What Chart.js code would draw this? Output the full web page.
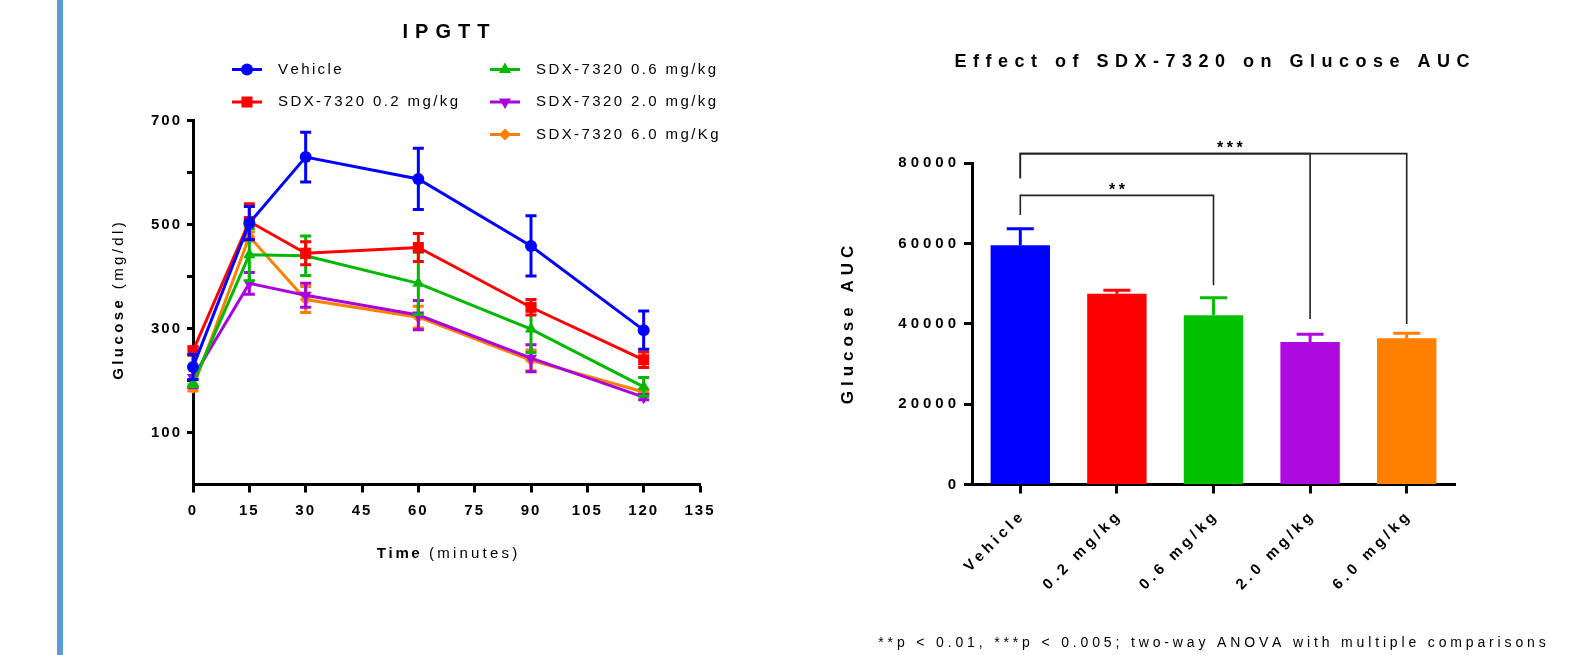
<!DOCTYPE html>
<html>
<head>
<meta charset="utf-8">
<script src="https://cdn.jsdelivr.net/npm/chart.js@4.4.1/dist/chart.umd.min.js"></script>
<style>
html, body { margin: 0; padding: 0; background: #fff; }
#page { position: relative; width: 1582px; height: 655px; overflow: hidden; }
#sidebar { position: absolute; left: 57px; top: 0; width: 6px; height: 655px; background: #5b9bd5; }
#ipgtt { position: absolute; left: 0; top: 0; }
#auc { position: absolute; left: 760px; top: 0; }
</style>
</head>
<body>
<div id="page">
  <div id="sidebar"></div>
  <canvas id="ipgtt" width="760" height="655"></canvas>
  <canvas id="auc" width="822" height="655"></canvas>
</div>
<script>
// ---- data: IPGTT (glucose mg/dl, mean and SEM) ----
const timePoints = [0, 15, 30, 60, 90, 120];
const timeTicks = [0, 15, 30, 45, 60, 75, 90, 105, 120, 135];
const glucoseTicks = [0, 100, 200, 300, 400, 500, 600, 700];
const glucoseLabels = [100, 300, 500, 700];
const groupNames = ['Vehicle', 'SDX-7320 0.2 mg/kg', 'SDX-7320 0.6 mg/kg', 'SDX-7320 2.0 mg/kg', 'SDX-7320 6.0 mg/Kg'];
const vehicleMean = [226, 503, 630, 588, 459, 297];
const vehicleSem  = [24, 32, 48, 59, 58, 37];
const dose02Mean  = [257, 506, 445, 456, 341, 240];
const dose02Sem   = [8, 34, 22, 27, 15, 15];
const dose06Mean  = [195, 442, 440, 387, 299, 188];
const dose06Sem   = [7, 50, 38, 60, 45, 18];
const dose20Mean  = [206, 387, 364, 326, 243, 168];
const dose20Sem   = [20, 21, 23, 28, 26, 5];
const dose60Mean  = [186, 477, 356, 322, 239, 178];
const dose60Sem   = [6, 9, 25, 21, 20, 5];

// ---- data: glucose AUC ----
const aucGroups = ['Vehicle', '0.2 mg/kg', '0.6 mg/kg', '2.0 mg/kg', '6.0 mg/kg'];
const aucMean = [59600, 47500, 42150, 35500, 36400];
const aucSem  = [4100, 900, 4350, 1900, 1250];
const aucTicks = [0, 20000, 40000, 60000, 80000];
// comparisons vs Vehicle: [from, to, bar y, left leg end, right leg end]
const sigBrackets = [
    [0, 2, 72000, 67100, 49600],
    [0, 3, 82400, 76300, 41200],
    [0, 4, 82400, 76300, 40000]
];
const sigLabels = [['**', 1, 73300], ['***', 2.17, 83600]];
const footnote = '**p < 0.01, ***p < 0.005; two-way ANOVA with multiple comparisons';

const colors = ['#0000ff', '#ff0000', '#00b800', '#aa00dd', '#ff8000'];
const barColors = ['#0000ff', '#ff0000', '#00c000', '#ad0ae0', '#ff8000'];
const FAM = "'Liberation Sans', Arial, Helvetica, sans-serif";

// draws text char by char so letter spacing works everywhere
function spacedRuns(ctx, runs, x, y, align) {
    let total = 0;
    runs.forEach(r => {
        ctx.font = r.font;
        r.w = [...r.text].map(ch => ctx.measureText(ch).width);
        total += r.w.reduce((a, b) => a + b, 0) + r.sp * r.w.length;
    });
    total -= runs[runs.length - 1].sp;
    let cx = align === 'center' ? x - total / 2 : (align === 'right' ? x - total : x);
    ctx.textAlign = 'left';
    runs.forEach(r => {
        ctx.font = r.font;
        [...r.text].forEach((ch, i) => {
            ctx.fillText(ch, cx, y);
            cx += r.w[i] + r.sp;
        });
    });
}
function vertRuns(ctx, runs, x, y) {
    ctx.save();
    ctx.translate(x, y);
    ctx.rotate(-Math.PI / 2);
    spacedRuns(ctx, runs, 0, 0, 'center');
    ctx.restore();
}
function textSetup(ctx) {
    ctx.letterSpacing = '0px';
    ctx.fillStyle = '#000';
    ctx.textBaseline = 'middle';
}
function letterSpacing(px) {
    return {
        id: 'letterSpacing',
        beforeLayout(chart) { chart.ctx.letterSpacing = px + 'px'; },
        beforeDraw(chart) { chart.ctx.letterSpacing = px + 'px'; }
    };
}

// error bars, drawn with each dataset
const errorBars = {
    id: 'errorBars',
    afterDatasetDraw(chart, args) {
        const ds = chart.data.datasets[args.index];
        if (!ds.errors) return;
        const ctx = chart.ctx;
        const y = chart.scales.y;
        ctx.save();
        ctx.lineWidth = 3;
        args.meta.data.forEach((el, i) => {
            const v = typeof ds.data[i] === 'object' ? ds.data[i].y : ds.data[i];
            const e = ds.errors[i];
            const col = Array.isArray(ds.backgroundColor) ? ds.backgroundColor[i] : ds.borderColor;
            const hi = y.getPixelForValue(v + e);
            const lo = ds.errorUp ? y.getPixelForValue(v) : y.getPixelForValue(v - e);
            const cap = ds.capHalf;
            ctx.strokeStyle = col;
            ctx.beginPath();
            ctx.moveTo(el.x, hi); ctx.lineTo(el.x, lo);
            ctx.moveTo(el.x - cap, hi); ctx.lineTo(el.x + cap, hi);
            if (!ds.errorUp) { ctx.moveTo(el.x - cap, lo); ctx.lineTo(el.x + cap, lo); }
            ctx.stroke();
        });
        ctx.restore();
    }
};

// ---------- left: IPGTT ----------
const meanSets = [vehicleMean, dose02Mean, dose06Mean, dose20Mean, dose60Mean];
const semSets = [vehicleSem, dose02Sem, dose06Sem, dose20Sem, dose60Sem];
const pointStyles = ['circle', 'rect', 'triangle', 'triangle', 'rectRot'];
const pointRot = [0, 0, 0, 180, 0];
const pointRad = [6, 7.8, 7, 7, 6];

const ipgttDecor = {
    id: 'ipgttDecor',
    afterDraw(chart) {
        const ctx = chart.ctx;
        ctx.save();
        textSetup(ctx);
        spacedRuns(ctx, [{ text: 'IPGTT', font: 'bold 20px ' + FAM, sp: 7 }], 446, 32, 'center');
        // legend in two columns
        const cols = [[0, 1], [2, 3, 4]];
        const colX = [247, 505];
        const rowY = [69.5, 102, 134.5];
        cols.forEach((items, c) => {
            items.forEach((di, r) => {
                const ds = chart.data.datasets[di];
                const cx = colX[c], cy = rowY[r];
                ctx.strokeStyle = ds.borderColor;
                ctx.lineWidth = 3;
                ctx.beginPath(); ctx.moveTo(cx - 15, cy); ctx.lineTo(cx + 15, cy); ctx.stroke();
                ctx.fillStyle = ds.borderColor;
                Chart.helpers.drawPoint(ctx, { pointStyle: ds.pointStyle, rotation: ds.pointRotation, radius: ds.pointRadius, borderWidth: 0 }, cx, cy);
                ctx.fillStyle = '#000';
                spacedRuns(ctx, [{ text: ds.label, font: '15px ' + FAM, sp: 2.4 }], cx + 31, cy, 'left');
            });
        });
        vertRuns(ctx, [
            { text: 'Glucose ', font: 'bold 15px ' + FAM, sp: 3.4 },
            { text: '(mg/dl)', font: '15px ' + FAM, sp: 3.4 }
        ], 119, 301);
        spacedRuns(ctx, [
            { text: 'Time ', font: 'bold 15px ' + FAM, sp: 2.6 },
            { text: '(minutes)', font: '15px ' + FAM, sp: 3.2 }
        ], 447, 554, 'center');
        ctx.restore();
    }
};

new Chart(document.getElementById('ipgtt'), {
    type: 'line',
    data: {
        datasets: groupNames.map((name, i) => ({
            label: name,
            data: timePoints.map((t, j) => ({ x: t, y: meanSets[i][j] })),
            errors: semSets[i],
            capHalf: 5.5,
            borderColor: colors[i],
            backgroundColor: colors[i],
            pointBackgroundColor: colors[i],
            borderWidth: 3,
            pointBorderWidth: 0,
            pointStyle: pointStyles[i],
            pointRotation: pointRot[i],
            pointRadius: pointRad[i],
            tension: 0,
            clip: false
        }))
    },
    options: {
        responsive: false,
        animation: false,
        layout: { padding: { left: 0, right: 60, top: 120.7, bottom: 0 } },
        plugins: { legend: { display: false }, tooltip: { enabled: false } },
        scales: {
            x: {
                type: 'linear', min: 0, max: 135,
                afterBuildTicks: s => { s.ticks = timeTicks.map(v => ({ value: v })); },
                afterFit: s => { s.height = 655 - 484.5; },
                border: { color: '#000', width: 3 },
                grid: { drawOnChartArea: false, drawTicks: true, tickLength: 8, tickWidth: 3, tickColor: '#000' },
                ticks: { color: '#000', font: { family: FAM, size: 15, weight: 'bold' }, padding: 9, maxRotation: 0, autoSkip: false }
            },
            y: {
                min: 0, max: 700,
                afterBuildTicks: s => { s.ticks = glucoseTicks.map(v => ({ value: v })); },
                afterFit: s => { s.width = 193; },
                border: { color: '#000', width: 3 },
                grid: {
                    drawOnChartArea: false, drawTicks: true, tickLength: 6, tickWidth: 3,
                    tickColor: c => (c.tick && c.tick.value === 0) ? 'rgba(0,0,0,0)' : '#000'
                },
                ticks: {
                    color: '#000', font: { family: FAM, size: 15, weight: 'bold' }, padding: 5,
                    callback: v => glucoseLabels.includes(v) ? String(v) : ''
                }
            }
        }
    },
    plugins: [letterSpacing(2), errorBars, ipgttDecor]
});

// ---------- right: AUC ----------
const aucDecor = {
    id: 'aucDecor',
    afterDraw(chart) {
        const ctx = chart.ctx;
        const x = chart.scales.x, y = chart.scales.y;
        ctx.save();
        // brackets
        ctx.strokeStyle = '#222';
        ctx.lineWidth = 1.6;
        sigBrackets.forEach(b => {
            const x1 = x.getPixelForValue(b[0]), x2 = x.getPixelForValue(b[1]);
            const yy = y.getPixelForValue(b[2]);
            ctx.beginPath();
            ctx.moveTo(x1, y.getPixelForValue(b[3]));
            ctx.lineTo(x1, yy);
            ctx.lineTo(x2, yy);
            ctx.lineTo(x2, y.getPixelForValue(b[4]));
            ctx.stroke();
        });
        textSetup(ctx);
        sigLabels.forEach(l => {
            spacedRuns(ctx, [{ text: l[0], font: 'bold 16px ' + FAM, sp: 3.5 }], x.getPixelForValue(l[1]), y.getPixelForValue(l[2]), 'center');
        });
        spacedRuns(ctx, [{ text: 'Effect of SDX-7320 on Glucose AUC', font: 'bold 18px ' + FAM, sp: 6.5 }], 452, 62, 'center');
        vertRuns(ctx, [{ text: 'Glucose AUC', font: 'bold 17px ' + FAM, sp: 5 }], 88, 325);
        spacedRuns(ctx, [{ text: footnote, font: '14px ' + FAM, sp: 3.85 }], 452, 643, 'center');
        ctx.restore();
    }
};

new Chart(document.getElementById('auc'), {
    type: 'bar',
    data: {
        labels: aucGroups,
        datasets: [{
            data: aucMean,
            errors: aucSem,
            errorUp: true,
            capHalf: 13.5,
            backgroundColor: barColors,
            borderWidth: 0,
            barPercentage: 0.615,
            categoryPercentage: 1
        }]
    },
    options: {
        responsive: false,
        animation: false,
        layout: { padding: { left: 0, right: 127, top: 163.3, bottom: 0 } },
        plugins: { legend: { display: false }, tooltip: { enabled: false } },
        scales: {
            x: {
                afterFit: s => { s.height = 655 - 484.5; },
                border: { color: '#000', width: 3 },
                grid: { offset: false, drawOnChartArea: false, drawTicks: true, tickLength: 9, tickWidth: 3, tickColor: '#000' },
                ticks: { color: '#000', font: { family: FAM, size: 15, weight: 'bold' }, padding: 13, labelOffset: 3, minRotation: 45, maxRotation: 45, autoSkip: false }
            },
            y: {
                min: 0, max: 80000,
                afterBuildTicks: s => { s.ticks = aucTicks.map(v => ({ value: v })); },
                afterFit: s => { s.width = 212; },
                border: { color: '#000', width: 3 },
                grid: { drawOnChartArea: false, drawTicks: true, tickLength: 8, tickWidth: 3, tickColor: '#000' },
                ticks: { color: '#000', font: { family: FAM, size: 15, weight: 'bold' }, padding: 4, callback: v => String(v) }
            }
        }
    },
    plugins: [letterSpacing(4), errorBars, aucDecor]
});
</script>
</body>
</html>
